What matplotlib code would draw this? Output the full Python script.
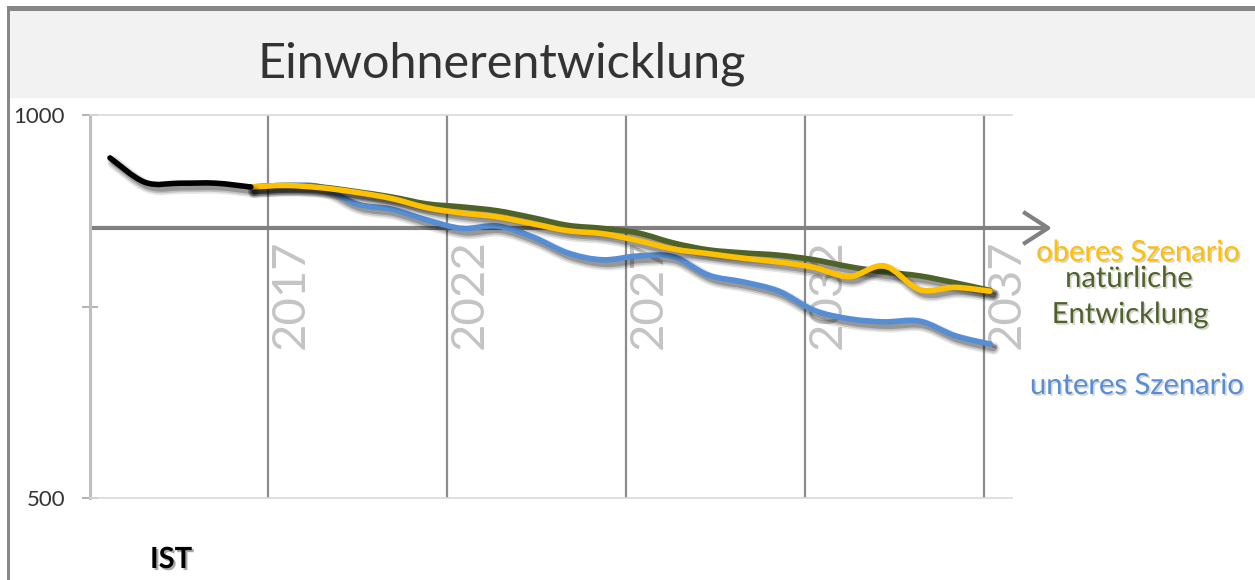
import numpy as np
import matplotlib
matplotlib.use("Agg")
import matplotlib.pyplot as plt
from matplotlib.path import Path
from matplotlib.patches import PathPatch, Rectangle
import matplotlib.patheffects as pe
import matplotlib.transforms as mtransforms

# --- Einwohnerzahlen -------------------------------------------------------
jahre_ist = [2012, 2013, 2014, 2015, 2016]
einwohner_ist = [944, 912, 911, 911, 906]

jahre_prognose = list(range(2016, 2038))
natuerliche_entwicklung = [906, 908, 906, 900, 893, 884, 880, 875, 866, 856, 852,
                           846, 833, 824, 820, 817, 811, 802, 795, 790, 781, 771]
oberes_szenario = [906, 908, 905, 899, 891, 879, 872, 867, 858, 849, 845,
                   836, 825, 819, 813, 808, 801, 789, 803, 772, 775, 770]
unteres_szenario = [906, 908, 906, 884, 877, 863, 852, 855, 841, 820, 811,
                    816, 815, 791, 782, 770, 745, 734, 730, 731, 712, 701]

achsen_jahre = [2017, 2022, 2027, 2032, 2037]
achsen_beschriftung = ["2017", "2022", "2027", "2032", "2037"]
y_ticks = [500, 750, 1000]
y_beschriftung = ["500", "", "1000"]

FONT = "Lato"
W, H = 1255, 580


def fx(px):
    return px / W


def fy(py):
    return 1 - py / H


def glatte_linie(x, y):
    """Smoothed line through the points, built from cubic Bezier segments."""
    pts = np.column_stack([x, y]).astype(float)
    n = len(pts)
    verts = [pts[0]]
    codes = [Path.MOVETO]
    for i in range(n - 1):
        p0 = pts[i - 1] if i > 0 else pts[i]
        p1, p2 = pts[i], pts[i + 1]
        p3 = pts[i + 2] if i + 2 < n else pts[i + 1]
        verts += [p1 + (p2 - p0) / 6, p2 - (p3 - p1) / 6, p2]
        codes += [Path.CURVE4] * 3
    return Path(verts, codes)


def schatten(lw):
    return [
        pe.SimpleLineShadow(offset=(2.5, -3.2), shadow_color="k", alpha=0.10, linewidth=lw + 5),
        pe.SimpleLineShadow(offset=(2.5, -3.2), shadow_color="k", alpha=0.15, linewidth=lw + 2.5),
        pe.SimpleLineShadow(offset=(2.5, -3.2), shadow_color="k", alpha=0.22, linewidth=lw),
        pe.Normal(),
    ]


fig = plt.figure(figsize=(W / 100, H / 100), dpi=100, facecolor="white")

# frame and title band
fig.patches.append(Rectangle((fx(10), fy(98)), fx(W) - fx(10), fy(11) - fy(98),
                             transform=fig.transFigure, facecolor="#F2F2F2",
                             edgecolor="none", zorder=0))
fig.patches.append(Rectangle((fx(7), fy(11)), fx(W) - fx(7), fy(6) - fy(11),
                             transform=fig.transFigure, facecolor="#878787",
                             edgecolor="none", zorder=1))
fig.patches.append(Rectangle((fx(7), fy(H)), fx(10) - fx(7), fy(6) - fy(H),
                             transform=fig.transFigure, facecolor="#878787",
                             edgecolor="none", zorder=1))

fig.text(fx(258), fy(78), "Einwohnerentwicklung", fontsize=35, family=FONT,
         weight="normal", color="#333333", ha="left", va="baseline")

pos = [fx(90), fy(498), fx(1012) - fx(90), fy(115) - fy(498)]

# axis carrying the year grid lines, year labels and the time arrow
ax_g = fig.add_axes(pos)
ax_g.set_xlim(2012.028, 2037.782)
ax_g.set_ylim(500, 1000)
ax_g.patch.set_visible(False)
for s in ax_g.spines.values():
    s.set_visible(False)
ax_g.set_xticks(achsen_jahre)
ax_g.set_yticks([])
ax_g.tick_params(axis="x", length=0, labelbottom=False)
ax_g.grid(axis="x", color="#8C8C8C", linewidth=1.6)

trans_lbl = mtransforms.blended_transform_factory(ax_g.transData, ax_g.transAxes)
for j, t in zip(achsen_jahre, achsen_beschriftung):
    ax_g.text(j + 0.06, 0.532, t, transform=trans_lbl, rotation=90, ha="left",
              va="center", fontsize=34, family=FONT, weight="normal",
              color="#C4C4C4")

ax_g.annotate("", xy=(1.0434, 0.705), xytext=(0.0, 0.705),
              xycoords="axes fraction", textcoords="axes fraction",
              annotation_clip=False,
              arrowprops=dict(arrowstyle="->,head_length=0.9,head_width=0.58",
                              mutation_scale=20, lw=3, color="#808080",
                              shrinkA=0, shrinkB=0, capstyle="butt"))

# data axis
ax = fig.add_axes(pos)
ax.set_zorder(ax_g.get_zorder() + 1)
ax.patch.set_visible(False)
ax.set_xlim(2011.432, 2037.625)
ax.set_ylim(500, 1000)
ax.set_xticks([])
ax.set_yticks(y_ticks)
ax.set_yticklabels(y_beschriftung, family=FONT, fontsize=16, color="#333333")
ax.tick_params(axis="y", direction="inout", length=12, width=1.2,
               color="#A6A6A6", pad=12)
ax.spines["right"].set_visible(False)
ax.spines["left"].set_color("#BFBFBF")
ax.spines["left"].set_linewidth(2.2)
for side in ("top", "bottom"):
    ax.spines[side].set_color("#D9D9D9")
    ax.spines[side].set_linewidth(1.2)

LW = 4.0
serien = [
    (jahre_prognose, unteres_szenario, "#558ED5"),
    (jahre_prognose, natuerliche_entwicklung, "#4F6228"),
    (jahre_prognose, oberes_szenario, "#FFC000"),
    (jahre_ist, einwohner_ist, "#000000"),
]
for xs, ys, farbe in serien:
    patch = PathPatch(glatte_linie(xs, ys), facecolor="none", edgecolor=farbe,
                      linewidth=LW, capstyle="round", joinstyle="round")
    patch.set_path_effects(schatten(LW))
    ax.add_patch(patch)

# series labels on the right
txt_schatten = [pe.SimplePatchShadow(offset=(1.2, -1.2), shadow_rgbFace="#7F7F7F",
                                     alpha=0.35), pe.Normal()]
beschriftungen = [
    ("oberes Szenario", 1138, 261, "#FFC000"),
    ("natürliche", 1129, 287, "#4F6228"),
    ("Entwicklung", 1130, 323, "#4F6228"),
    ("unteres Szenario", 1137, 394, "#558ED5"),
]
for t, x, y, farbe in beschriftungen:
    fig.text(fx(x), fy(y), t, fontsize=21, family=FONT, color=farbe,
             ha="center", va="baseline", path_effects=txt_schatten)

fig.text(fx(171), fy(568), "IST", fontsize=21, family=FONT, weight="bold",
         color="black", ha="center", va="baseline",
         path_effects=[pe.SimplePatchShadow(offset=(1.5, -1.5),
                                            shadow_rgbFace="#555555", alpha=0.5),
                       pe.Normal()])

fig.savefig("out.png", dpi=100, facecolor="white")
